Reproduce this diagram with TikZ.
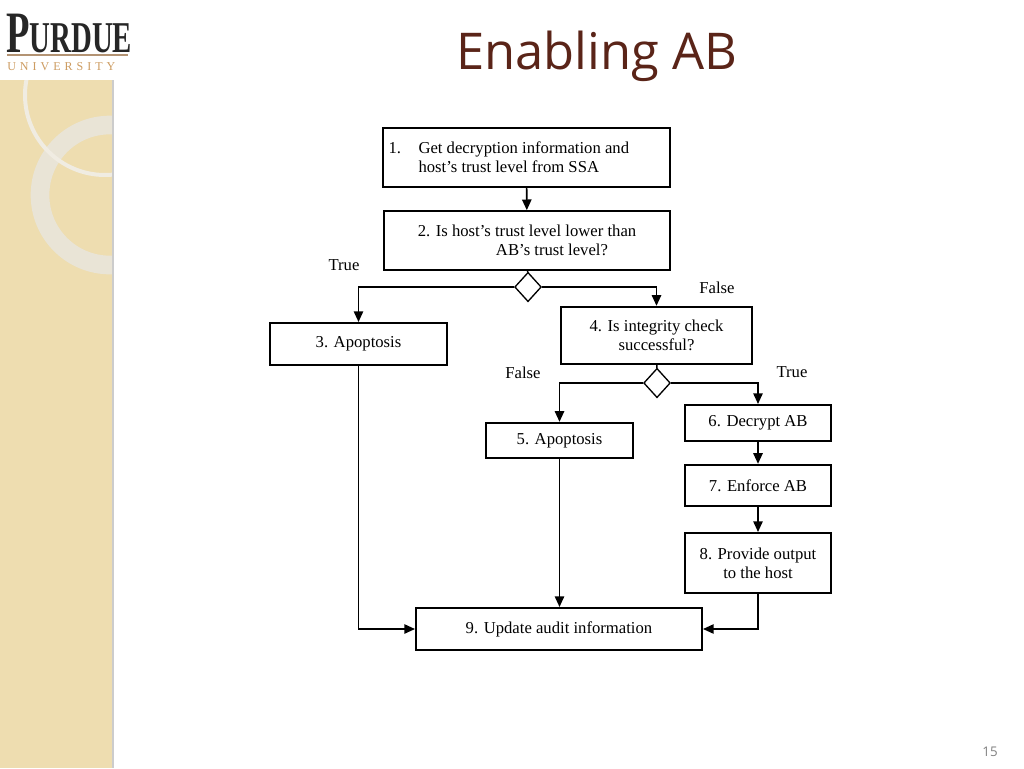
\documentclass[tikz,border=0pt]{standalone}
\usepackage{fontspec}
\setmainfont{Liberation Serif}
\newfontfamily\titlef{Open Sans}
\usetikzlibrary{shapes.geometric,arrows.meta}
\definecolor{tan}{HTML}{EEDDB0}
\definecolor{ring}{HTML}{E9E4D6}
\definecolor{ttl}{HTML}{5A2418}
\begin{document}
\begin{tikzpicture}[x=0.75pt,y=-0.75pt,
  box/.style={draw,line width=1.5pt,inner sep=0pt,font=\fontsize{12.5}{14}\selectfont,align=center},
  dia/.style={draw,diamond,line width=1pt,minimum width=20pt,minimum height=22pt,inner sep=0pt,fill=white},
  lab/.style={font=\fontsize{12.5}{14}\selectfont},
  arr/.style={line width=1.2pt,-{Triangle[length=8pt,width=7pt]}},
  ln/.style={line width=1.2pt}]
\useasboundingbox (0,0) rectangle (1024,768);
\fill[white] (0,0) rectangle (1024,768);
\begin{scope}
\clip (0,80) rectangle (112,768);
\fill[tan] (0,0) rectangle (112,768);
\draw[ring,line width=14pt] (110,195) circle (70);
\draw[ring!70!white,line width=3pt] (105,95) circle (80);
\end{scope}
\fill[gray!40] (112,80) rectangle (114,768);
% logo
\node[anchor=west,text=black!85,inner sep=0pt] (logo) at (6,33) {\scalebox{0.72}[1.1]{\bfseries\fontsize{40}{40}\selectfont P\fontsize{30}{30}\selectfont URDUE}};
\draw[color=ttl!40!tan,line width=0.8pt] (7,55) -- (128,55);
\node[anchor=west,font=\fontsize{9}{9}\selectfont,text=brown!70!tan,inner sep=0pt] (uni) at (7,67) {U\,\,N\,\,I\,\,V\,\,E\,\,R\,\,S\,\,I\,\,T\,\,Y};
\node[font=\titlef\fontsize{38}{42}\selectfont,text=ttl] (title) at (597,56) {Enabling AB};
\node[font=\titlef\fontsize{10}{12}\selectfont,text=gray] (pg) at (990,752) {15};
% boxes
\node[box,minimum width=215pt,minimum height=44pt,align=flush left,text width=207pt] (b1) at (526.5,157.5) {\makebox[22.5pt][l]{1.}Get decryption information and\\\hspace*{22.5pt}host’s trust level from SSA};
\node[box,minimum width=214pt,minimum height=44pt] (b2) at (527,240.5) {2. Is host’s trust level lower than\\\hspace{3em}AB’s trust level?};
\node[dia] (d1) at (528,287) {};
\node[box,minimum width=133pt,minimum height=31.5pt] (b3) at (358.5,344) {3. Apoptosis};
\node[box,minimum width=143pt,minimum height=43pt] (b4) at (656.5,335.5) {4. Is integrity check\\successful?};
\node[dia] (d2) at (657,383) {};
\node[box,minimum width=110pt,minimum height=26.5pt] (b5) at (559.5,440.5) {5. Apoptosis};
\node[box,minimum width=109.5pt,minimum height=27pt] (b6) at (758,423) {6. Decrypt AB};
\node[box,minimum width=109.5pt,minimum height=31pt] (b7) at (758,485.5) {7. Enforce AB};
\node[box,minimum width=109.5pt,minimum height=45pt] (b8) at (758,563) {8. Provide output\\to the host};
\node[box,minimum width=214.5pt,minimum height=31.5pt] (b9) at (559,629) {9. Update audit information};
% connectors
\draw[arr] (b1) -- (b2);
\draw[ln] (b2) -- (d1);
\draw[arr] (d1.west) -| (b3.north);
\draw[arr] (d1.east) -| (b4.north);
\draw[ln] (b4) -- (d2);
\draw[arr] (d2.west) -| (b5.north);
\draw[arr] (d2.east) -| (b6.north);
\draw[arr] (b6) -- (b7);
\draw[arr] (b7) -- (b8);
\draw[arr] (b3.south) |- (b9.west);
\draw[arr] (b5.south) -- (b9.north -| b5.south);
\draw[arr] (b8.south) |- (b9.east);
% labels
\node[lab] (t1) at (344,265) {True};
\node[lab] (f1) at (717,288) {False};
\node[lab] (f2) at (523,373) {False};
\node[lab] (t2) at (792,372) {True};
\end{tikzpicture}
\end{document}
